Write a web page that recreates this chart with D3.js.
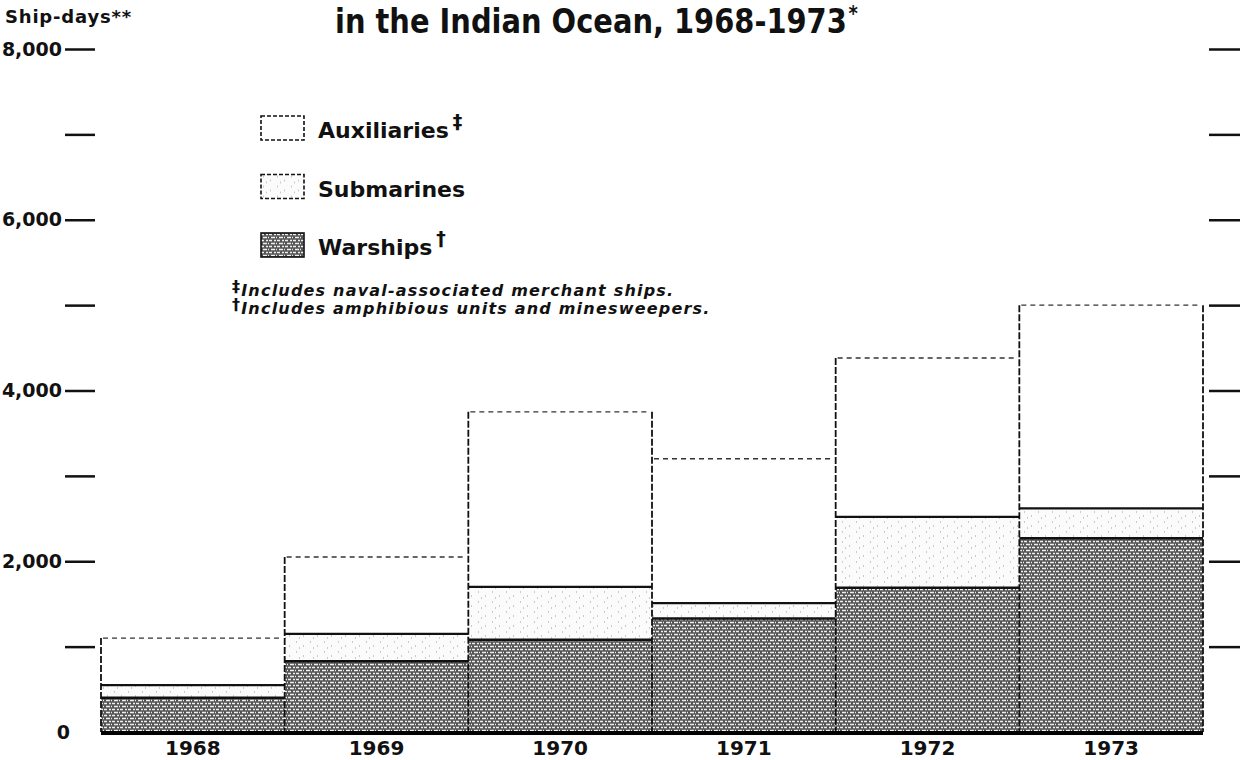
<!DOCTYPE html>
<html>
<head>
<meta charset="utf-8">
<script src="https://cdn.jsdelivr.net/npm/d3@7"></script>
<style>
  body { margin: 0; background: #fff; }
  svg text { font-family: "DejaVu Sans", sans-serif; font-weight: bold; fill: #111; }
</style>
</head>
<body>
<script>
// values (ship-days per type)
const years = ["1968", "1969", "1970", "1971", "1972", "1973"];
const warships = [400, 830, 1080, 1330, 1690, 2270];
const submarines = [150, 320, 620, 180, 830, 350];
const auxiliaries = [550, 900, 2050, 1690, 1860, 2380];
const yTicks = [0, 1000, 2000, 3000, 4000, 5000, 6000, 7000, 8000];
const yLabels = { 0: "0", 2000: "2,000", 4000: "4,000", 6000: "6,000", 8000: "8,000" };

const W = 1248, H = 760;
const keys = ["warships", "submarines", "auxiliaries"];
const rows = years.map((yr, i) => ({
   year: yr,
   warships: warships[i],
   submarines: submarines[i],
   auxiliaries: auxiliaries[i]
}));

const svg = d3.select("body").append("svg")
   .attr("width", W)
   .attr("height", H);

// texture for warships, stipple-ish
const defs = svg.append("defs");
const pat = defs.append("pattern")
   .attr("id", "stip")
   .attr("width", 8).attr("height", 6)
   .attr("patternUnits", "userSpaceOnUse");
pat.append("rect").attr("width", 8).attr("height", 6).attr("fill", "#555");
pat.append("path")
   .attr("d", "M0,1.5h3M5,1.5h2M2,4.5h4M7,4.5h1")
   .attr("stroke", "#eee").attr("stroke-width", 1.5);
const dots = defs.append("pattern")
   .attr("id", "dots")
   .attr("width", 14).attr("height", 10)
   .attr("patternUnits", "userSpaceOnUse");
dots.append("rect").attr("width", 14).attr("height", 10).attr("fill", "#fbfbfb");
dots.append("path")
   .attr("d", "M2,2h1M9,6h1M5,8h1")
   .attr("stroke", "#999").attr("stroke-width", 1);

const x = d3.scaleBand().domain(years).range([101, 1203]).padding(0);
const y = d3.scaleLinear().domain([0, 8000]).range([732, 49]);

const stack = d3.stack().keys(keys);
const series = stack(rows);

const fills = { warships: "url(#stip)", submarines: "url(#dots)", auxiliaries: "#fff" };

const g = svg.append("g");
series.forEach(s => {
   g.selectAll(".b-" + s.key)
      .data(s)
    .enter().append("rect")
      .attr("class", "b-" + s.key)
      .attr("x", d => x(d.data.year))
      .attr("width", x.bandwidth())
      .attr("y", d => y(d[1]))
      .attr("height", d => y(d[0]) - y(d[1]))
      .attr("fill", fills[s.key])
      .attr("stroke", "none");
});

// outlines: dashed top of the auxiliaries, solid division lines
const auxSeries = series[2];
g.selectAll(".auxTop")
   .data(auxSeries)
 .enter().append("line")
   .attr("x1", d => x(d.data.year) + 2)
   .attr("x2", d => x(d.data.year) + x.bandwidth() - 2)
   .attr("y1", d => y(d[1])).attr("y2", d => y(d[1]))
   .attr("stroke", "#333").attr("stroke-width", 1.4)
   .attr("stroke-dasharray", "5,4");

g.selectAll(".subTop")
   .data(series[1])
 .enter().append("line")
   .attr("x1", d => x(d.data.year))
   .attr("x2", d => x(d.data.year) + x.bandwidth())
   .attr("y1", d => y(d[1])).attr("y2", d => y(d[1]))
   .attr("stroke", "#111").attr("stroke-width", 2.2);

g.selectAll(".warTop")
   .data(series[0])
 .enter().append("line")
   .attr("x1", d => x(d.data.year))
   .attr("x2", d => x(d.data.year) + x.bandwidth())
   .attr("y1", d => y(d[1])).attr("y2", d => y(d[1]))
   .attr("stroke", "#111").attr("stroke-width", 2.5);

// vertical edges: each edge runs to the taller neighbouring bar
const totals = auxSeries.map(d => d[1]);
const edges = d3.range(years.length + 1).map(i => ({
   xpos: i < years.length ? x(years[i]) : x(years[i - 1]) + x.bandwidth(),
   h: Math.max(i > 0 ? totals[i - 1] : 0, i < years.length ? totals[i] : 0)
}));
g.selectAll(".edge")
   .data(edges)
 .enter().append("line")
   .attr("x1", d => d.xpos).attr("x2", d => d.xpos)
   .attr("y1", d => y(d.h)).attr("y2", y(0))
   .attr("stroke", "#111").attr("stroke-width", 1.8)
   .attr("stroke-dasharray", "7,2");

// baseline
g.append("line")
   .attr("x1", x.range()[0]).attr("x2", x.range()[1])
   .attr("y1", y(0) + 1).attr("y2", y(0) + 1)
   .attr("stroke", "#000").attr("stroke-width", 4);

// left axis
const ax = svg.append("g")
   .attr("transform", "translate(95,0)")
   .call(d3.axisLeft(y).tickValues(yTicks).tickSize(30).tickPadding(3)
      .tickFormat(d => yLabels[d] || ""));
ax.select(".domain").remove();
ax.selectAll(".tick line").attr("stroke", "#111").attr("stroke-width", 2.5)
   .filter(d => d === 0).remove();
ax.selectAll(".tick text")
   .attr("font-size", 19)
   .attr("fill", "#111");
ax.selectAll(".tick text").filter(d => d === 0).attr("x", -25);

// right axis, ticks only
const ax2 = svg.append("g")
   .attr("transform", "translate(1209,0)")
   .call(d3.axisRight(y).tickValues(yTicks.slice(1)).tickSize(31).tickFormat(""));
ax2.select(".domain").remove();
ax2.selectAll(".tick line").attr("stroke", "#111").attr("stroke-width", 2.5);

// year labels
svg.selectAll(".yr")
   .data(years)
 .enter().append("text")
   .attr("x", d => x(d) + x.bandwidth() / 2)
   .attr("y", 755)
   .attr("text-anchor", "middle")
   .attr("font-size", 20)
   .text(d => d);

// title (first line is cut off in the scan), squeezed to look condensed
const title = svg.append("g")
   .attr("transform", "translate(335,33) scale(0.85,1)")
   .append("text")
   .attr("font-size", 34);
title.append("tspan").text("in the Indian Ocean, 1968-1973");
title.append("tspan").attr("font-size", 21).attr("dy", -12).attr("dx", 2).text("*");

svg.append("text")
   .attr("x", 5).attr("y", 23)
   .attr("font-size", 18)
   .attr("letter-spacing", 0.8)
   .text("Ship-days**");

// legend
const legend = [
   { label: "Auxiliaries", sup: "‡", fill: "#fff", dash: "4,2" },
   { label: "Submarines", sup: "", fill: "url(#dots)", dash: "4,2" },
   { label: "Warships", sup: "†", fill: "url(#stip)", dash: null }
];
const lg = svg.append("g").attr("transform", "translate(261,116)");
const item = lg.selectAll(".lg")
   .data(legend)
 .enter().append("g")
   .attr("transform", (d, i) => "translate(0," + i * 58.5 + ")");
item.append("rect")
   .attr("width", 43).attr("height", 24)
   .attr("fill", d => d.fill)
   .attr("stroke", "#111").attr("stroke-width", 1.6)
   .attr("stroke-dasharray", d => d.dash);
const lt = item.append("text")
   .attr("x", 57).attr("y", 22)
   .attr("font-size", 22);
lt.append("tspan").text(d => d.label);
lt.append("tspan").attr("dx", 4).attr("dy", -10).attr("font-size", 19).text(d => d.sup);

// footnotes
const notes = [
   { sym: "‡", text: "Includes naval-associated merchant ships." },
   { sym: "†", text: "Includes amphibious units and minesweepers." }
];
const nt = svg.selectAll(".note")
   .data(notes)
 .enter().append("text")
   .attr("x", 232)
   .attr("y", (d, i) => 296 + i * 18)
   .attr("font-size", 16)
   .attr("letter-spacing", 1.2)
   .attr("font-style", "italic");
nt.append("tspan").attr("dy", -4).attr("font-size", 16).attr("font-style", "normal").text(d => d.sym);
nt.append("tspan").attr("dy", 4).text(d => d.text);
</script>
</body>
</html>
